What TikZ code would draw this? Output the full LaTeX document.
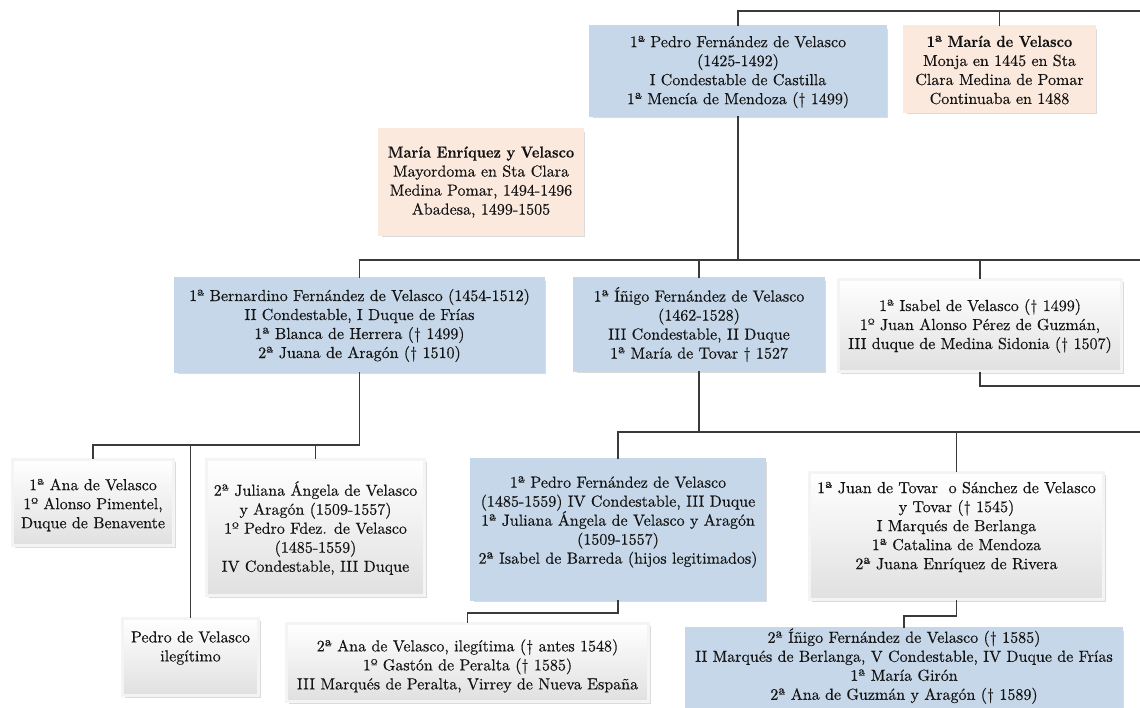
\documentclass[tikz,border=0pt]{standalone}
\usepackage{fontspec}
\setmainfont{lmroman10-regular.otf}[FakeBold=0.35, BoldFont=lmroman10-bold.otf, BoldFeatures={FakeBold=0.2}, ItalicFont=lmroman10-italic.otf]
\usetikzlibrary{shadows}
\definecolor{bluefill}{RGB}{198,215,233}
\definecolor{blueline}{RGB}{120,142,174}
\definecolor{peachfill}{RGB}{251,233,221}
\definecolor{peachline}{RGB}{165,150,138}
\definecolor{grayline}{RGB}{160,160,160}
\definecolor{graybot}{RGB}{224,224,224}
\definecolor{graymid}{RGB}{244,244,244}
\definecolor{connc}{RGB}{58,58,58}
\newcommand\bt[1]{\scalebox{0.9}[1]{\textbf{#1}}}
\tikzset{
  basebox/.style={rectangle, inner sep=0pt, line width=0.75pt, double distance=2.4pt,
    drop shadow={shadow xshift=2pt, shadow yshift=-2pt, opacity=0.28}},
  bluebox/.style={basebox, draw=blueline, double=bluefill, fill=bluefill},
  peachbox/.style={basebox, draw=peachline, double=peachfill, fill=peachfill},
  graybox/.style={basebox, draw=grayline, double=graymid, top color=white, bottom color=graybot},
  txt/.style={align=center, inner sep=0pt, font=\fontsize{16}{19}\selectfont, text=black!92},
  conn/.style={draw=connc, line width=1.3pt},
}
\begin{document}
\begin{tikzpicture}[x=1pt,y=-1pt]
\useasboundingbox (0,0) rectangle (1140,707);
\clip (0,0) rectangle (1140,707);
\fill[white] (0,0) rectangle (1140,707);

% ---------- boxes ----------
\node[bluebox, minimum width=295pt, minimum height=89pt] (pedro0) at (738,71) {};
\node[txt] (pedro0t) at (738,72) {1ª Pedro Fernández de Velasco\\(1425-1492)\\I Condestable de Castilla\\1ª Mencía de Mendoza († 1499)};

\node[peachbox, minimum width=190pt, minimum height=85pt] (mariaV) at (999.5,69) {};
\node[txt] (mariaVt) at (999.5,70) {\bt{1ª María de Velasco}\\Monja en 1445 en Sta\\Clara Medina de Pomar\\Continuaba en 1488};

\node[peachbox, minimum width=203pt, minimum height=105pt] (mariaE) at (481,182) {};
\node[txt] (mariaEt) at (481,182) {\bt{María Enríquez y Velasco}\\Mayordoma en Sta Clara\\Medina Pomar, 1494-1496\\Abadesa, 1499-1505};

\node[bluebox, minimum width=368pt, minimum height=93pt] (bern) at (359.5,325) {};
\node[txt] (bernt) at (359.5,325.5) {1ª Bernardino Fernández de Velasco (1454-1512)\\II Condestable, I Duque de Frías\\1ª Blanca de Herrera († 1499)\\2ª Juana de Aragón († 1510)};

\node[bluebox, minimum width=249pt, minimum height=92pt] (inigo) at (699,324.5) {};
\node[txt] (inigot) at (699,324.5) {1ª Íñigo Fernández de Velasco\\(1462-1528)\\III Condestable, II Duque\\1ª María de Tovar † 1527};

\node[graybox, minimum width=283pt, minimum height=92pt] (isabel) at (980,325.5) {};
\node[txt] (isabelt) at (980,326) {1ª Isabel de Velasco († 1499)\\1º Juan Alonso Pérez de Guzmán,\\III duque de Medina Sidonia († 1507)};

\node[bluebox, minimum width=293pt, minimum height=140pt] (p85) at (618,529.5) {};
\node[txt] (p85t) at (618,522) {1ª Pedro Fernández de Velasco\\(1485-1559) IV Condestable, III Duque\\1ª Juliana Ángela de Velasco y Aragón\\(1509-1557)\\2ª Isabel de Barreda (hijos legitimados)};

\node[graybox, minimum width=294pt, minimum height=127pt] (juan) at (956.5,536) {};
\node[txt] (juant) at (956.5,527) {1ª Juan de Tovar\ \ o Sánchez de Velasco\\y Tovar († 1545)\\I Marqués de Berlanga\\1ª Catalina de Mendoza\\2ª Juana Enríquez de Rivera};

\node[graybox, minimum width=161pt, minimum height=86pt] (ana) at (93,502.5) {};
\node[txt] (anat) at (93,505) {1ª Ana de Velasco\\1º Alonso Pimentel,\\Duque de Benavente};

\node[graybox, minimum width=218pt, minimum height=136pt] (jul) at (315.5,527.5) {};
\node[txt] (jult) at (315.5,528) {2ª Juliana Ángela de Velasco\\y Aragón (1509-1557)\\1º Pedro Fdez. de Velasco\\(1485-1559)\\IV Condestable, III Duque};

\node[graybox, minimum width=136pt, minimum height=77pt] (pedroI) at (190.5,657) {};
\node[txt] (pedroIt) at (190.5,648) {Pedro de Velasco\\ilegítimo};

\node[graybox, minimum width=362pt, minimum height=78pt] (ana2) at (467.5,662.5) {};
\node[txt] (ana2t) at (467.5,666) {2ª Ana de Velasco, ilegítima († antes 1548)\\1º Gastón de Peralta († 1585)\\III Marqués de Peralta, Virrey de Nueva España};

\node[bluebox, minimum width=435pt, minimum height=82pt] (inigo2) at (904,669.5) {};
\node[txt] (inigo2t) at (904,666) {2ª Íñigo Fernández de Velasco († 1585)\\II Marqués de Berlanga, V Condestable, IV Duque de Frías\\1ª María Girón\\2ª Ana de Guzmán y Aragón († 1589)};

% ---------- connector end points ----------
\coordinate (topR) at (1140,11);
\coordinate (rowA) at (1140,260);
\coordinate (isaR) at (1140,386);
\coordinate (rowC) at (1140,432);

% ---------- connectors ----------
\draw[conn] (pedro0.north) |- (topR);
\draw[conn] (mariaV.north) -- (mariaV.north |- topR);

\draw[conn] (bern.north) |- (rowA);
\draw[conn] (pedro0.south) -- (pedro0.south |- rowA);
\draw[conn] (inigo.north) -- (inigo.north |- rowA);
\draw[conn] (isabel.north) -- (isabel.north |- rowA);
\draw[conn] (isabel.south) |- (isaR);

\draw[conn] (p85.north) |- (rowC);
\draw[conn] (inigo.south) -- (inigo.south |- rowC);
\draw[conn] (juan.north) -- (juan.north |- rowC);

\draw[conn] (bern.south) -- (bern.south |- 0,445) -| (ana.north);
\draw[conn] (bern.south |- 0,445) -| (jul.north);
\draw[conn] (bern.south |- 0,445) -| (pedroI.north);

\draw[conn] (p85.south) -- (p85.south |- 0,613) -| (ana2.north);
\draw[conn] (juan.south) -- (juan.south |- 0,616) -| (inigo2.north);
\end{tikzpicture}
\end{document}
